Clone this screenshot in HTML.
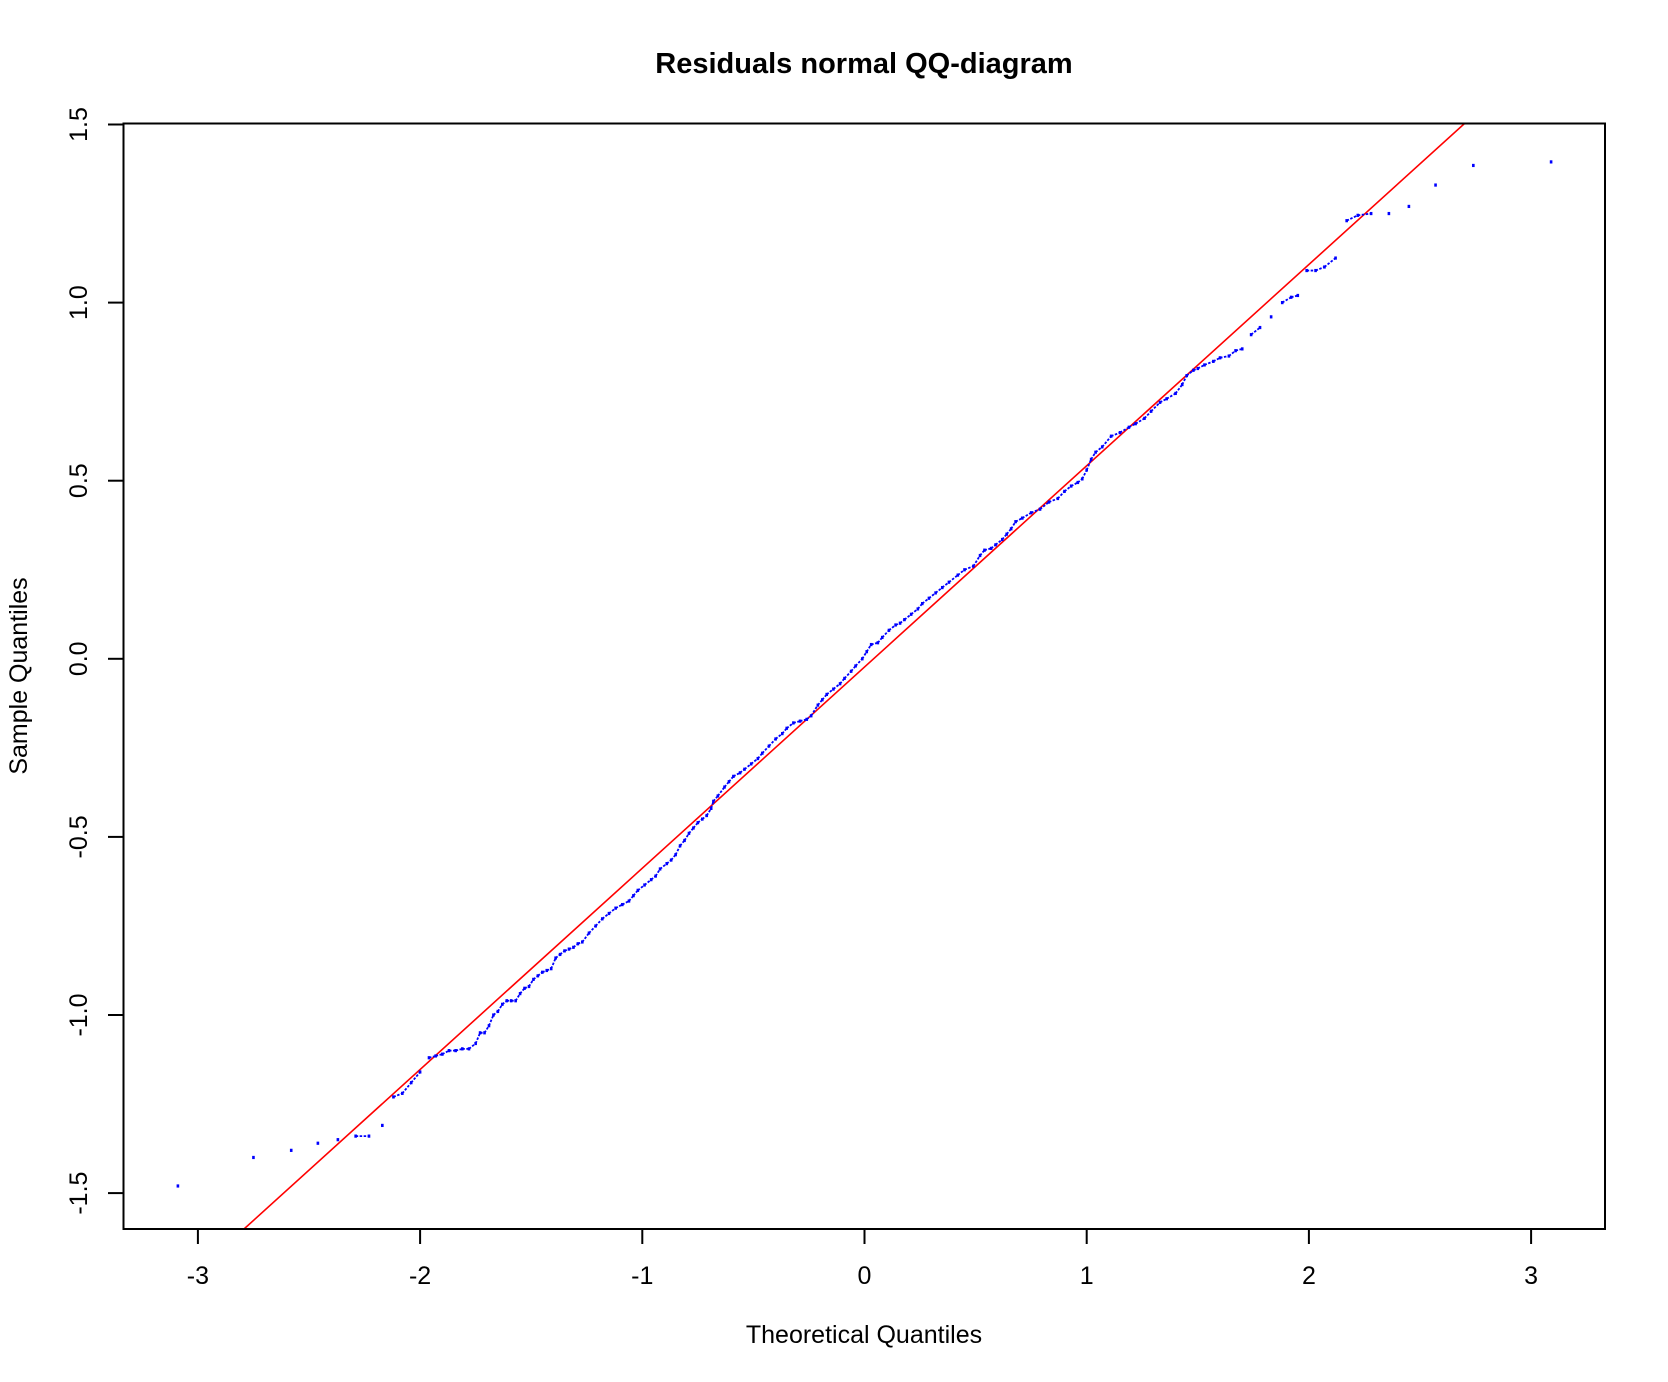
<!DOCTYPE html>
<html><head><meta charset="utf-8"><style>
html,body{margin:0;padding:0;background:#fff;}
svg{display:block;font-family:"Liberation Sans",Arial,sans-serif;}
</style></head><body>
<svg id="chart" width="1668" height="1382" viewBox="0 0 1668 1382" xmlns="http://www.w3.org/2000/svg">
<rect width="1668" height="1382" fill="#fff"/>
<text x="864" y="73" text-anchor="middle" font-size="29" font-weight="bold">Residuals normal QQ-diagram</text>
<text x="864" y="1343" text-anchor="middle" font-size="25">Theoretical Quantiles</text>
<text transform="translate(27,676) rotate(-90)" text-anchor="middle" font-size="25">Sample Quantiles</text>
<g id="axes"></g>
<g id="marks"></g>
<rect x="123.5" y="123.5" width="1481.5" height="1105.5" fill="none" stroke="#000" stroke-width="2"/>
</svg>
<script>
const xTicks = [-3,-2,-1,0,1,2,3];
const yTicks = [-1.5,-1.0,-0.5,0.0,0.5,1.0,1.5];
const yTickLabels = ["-1.5","-1.0","-0.5","0.0","0.5","1.0","1.5"];
const lineIntercept = -0.023;
const lineSlope = 0.565;
const theoretical = [-3.09,-2.75,-2.58,-2.46,-2.37,-2.29,-2.23,-2.17,-2.12,-2.08,-2.04,-2.00,-1.96,-1.93,-1.90,-1.87,-1.84,-1.81,-1.78,-1.75,-1.73,-1.71,-1.69,-1.67,-1.65,-1.63,-1.61,-1.59,-1.57,-1.55,-1.53,-1.51,-1.49,-1.47,-1.45,-1.43,-1.41,-1.39,-1.37,-1.35,-1.33,-1.31,-1.29,-1.27,-1.24,-1.21,-1.18,-1.15,-1.12,-1.09,-1.06,-1.04,-1.02,-0.99,-0.96,-0.94,-0.92,-0.89,-0.87,-0.85,-0.83,-0.81,-0.79,-0.77,-0.75,-0.73,-0.71,-0.69,-0.68,-0.66,-0.63,-0.61,-0.59,-0.56,-0.54,-0.51,-0.48,-0.46,-0.43,-0.40,-0.37,-0.35,-0.32,-0.29,-0.26,-0.24,-0.21,-0.19,-0.17,-0.14,-0.11,-0.09,-0.06,-0.04,-0.01,0.01,0.03,0.06,0.08,0.11,0.14,0.16,0.18,0.21,0.24,0.26,0.29,0.32,0.35,0.38,0.42,0.45,0.49,0.52,0.54,0.57,0.59,0.62,0.64,0.66,0.68,0.71,0.75,0.79,0.83,0.87,0.90,0.93,0.96,0.98,1.00,1.02,1.04,1.07,1.11,1.15,1.19,1.22,1.26,1.29,1.33,1.36,1.40,1.43,1.45,1.48,1.50,1.53,1.57,1.60,1.64,1.67,1.70,1.74,1.78,1.83,1.88,1.92,1.95,1.99,2.03,2.07,2.12,2.17,2.22,2.28,2.36,2.45,2.57,2.74,3.09];
const sample = [-1.48,-1.40,-1.38,-1.36,-1.35,-1.34,-1.34,-1.31,-1.23,-1.22,-1.19,-1.16,-1.12,-1.115,-1.11,-1.10,-1.10,-1.095,-1.095,-1.08,-1.05,-1.05,-1.03,-1.00,-0.99,-0.97,-0.96,-0.96,-0.96,-0.94,-0.925,-0.92,-0.90,-0.89,-0.88,-0.875,-0.87,-0.84,-0.83,-0.82,-0.815,-0.81,-0.80,-0.795,-0.77,-0.75,-0.73,-0.715,-0.70,-0.69,-0.68,-0.665,-0.65,-0.635,-0.62,-0.61,-0.59,-0.575,-0.565,-0.55,-0.525,-0.51,-0.49,-0.475,-0.46,-0.45,-0.44,-0.42,-0.40,-0.385,-0.36,-0.345,-0.33,-0.32,-0.31,-0.295,-0.28,-0.265,-0.245,-0.225,-0.21,-0.195,-0.18,-0.175,-0.17,-0.16,-0.13,-0.115,-0.10,-0.085,-0.07,-0.055,-0.035,-0.02,0.00,0.02,0.04,0.045,0.06,0.08,0.095,0.10,0.11,0.125,0.14,0.155,0.17,0.185,0.20,0.215,0.235,0.25,0.26,0.29,0.305,0.31,0.32,0.335,0.35,0.365,0.385,0.395,0.41,0.42,0.44,0.45,0.47,0.485,0.495,0.505,0.53,0.56,0.58,0.595,0.625,0.635,0.65,0.66,0.675,0.695,0.72,0.73,0.745,0.77,0.795,0.81,0.815,0.825,0.835,0.845,0.85,0.865,0.87,0.91,0.93,0.96,1.00,1.015,1.02,1.09,1.09,1.10,1.125,1.23,1.245,1.25,1.25,1.27,1.33,1.385,1.395];

const svgNS = "http://www.w3.org/2000/svg";
const X0 = 864.5, XU = 222.2, Y0 = 658.8, YU = 356.2;
function sx(v){ return X0 + v * XU; }
function sy(v){ return Y0 - v * YU; }
function mk(tag, attrs, parent){
  const e = document.createElementNS(svgNS, tag);
  for (const k in attrs) e.setAttribute(k, attrs[k]);
  parent.appendChild(e);
  return e;
}
const axes = document.getElementById('axes');
const marks = document.getElementById('marks');

xTicks.forEach(function(t){
  const ln = mk('line', {x1:sx(t), x2:sx(t), y1:1229, y2:1244, stroke:'#000','stroke-width':2}, axes);
  
  
  const tx = mk('text', {x:sx(t), y:1284, 'text-anchor':'middle', 'font-size':25}, axes);
  tx.textContent = String(t);
  
  
});
yTicks.forEach(function(t, i){
  const ln = mk('line', {x1:108, x2:123.5, y1:sy(t), y2:sy(t), stroke:'#000','stroke-width':2}, axes);
  
  
  const tx = mk('text', {transform:'translate(87,' + sy(t) + ') rotate(-90)', 'text-anchor':'middle', 'font-size':25}, axes);
  tx.textContent = yTickLabels[i];
  
  
});

const yLo = (Y0 - 1229) / YU, yHi = (Y0 - 123.5) / YU;
const xa = (yLo - lineIntercept) / lineSlope, xb = (yHi - lineIntercept) / lineSlope;
const rl = mk('line', {x1:sx(xa), y1:sy(lineIntercept + lineSlope*xa), x2:sx(xb), y2:sy(lineIntercept + lineSlope*xb), stroke:'#ff0000', 'stroke-width':1.6}, marks);



for (let i = 1; i < theoretical.length; i++){
  const x1 = sx(theoretical[i-1]), y1 = sy(sample[i-1]), x2 = sx(theoretical[i]), y2 = sy(sample[i]);
  if (Math.hypot(x2-x1, y2-y1) < 15){
    const s = mk('line', {x1:x1, y1:y1, x2:x2, y2:y2, stroke:'#0000ff', 'stroke-width':1.8, 'stroke-dasharray':'2.5 1.5'}, marks);
    
    
  }
}
theoretical.forEach(function(t, i){
  const c = mk('rect', {x:sx(t)-1.3, y:sy(sample[i])-1.6, width:2.6, height:3.2, fill:'#0000ff'}, marks);
  
  
});
</script>
</body></html>
